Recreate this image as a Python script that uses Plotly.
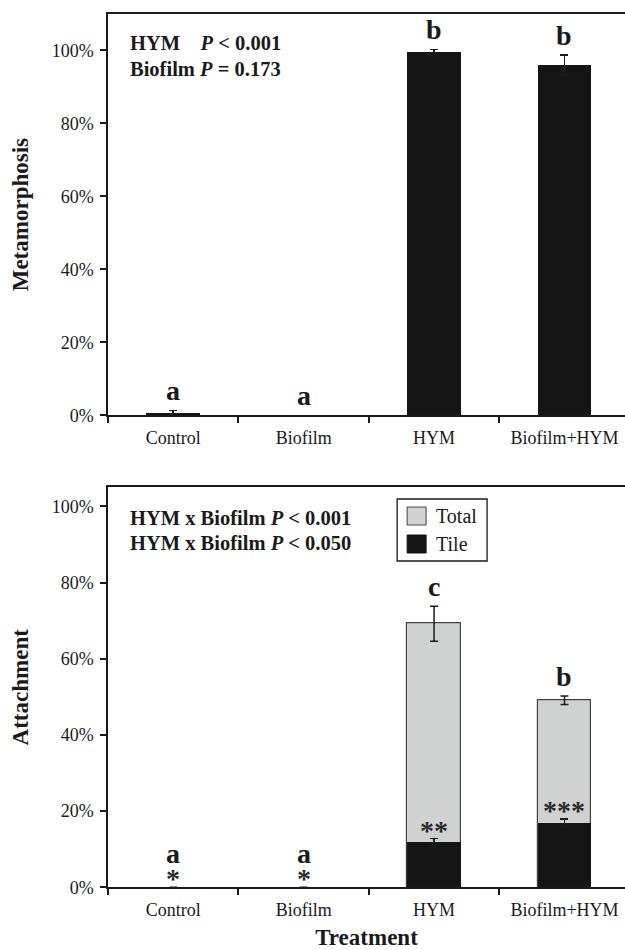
import plotly.graph_objects as go
from plotly.subplots import make_subplots

# ---------------- data ----------------
categories = ["Control", "Biofilm", "HYM", "Biofilm+HYM"]

metamorphosis = [0.6, 0.0, 99.6, 96.0]
metamorphosis_err = [0.7, 0.0, 0.7, 2.7]
metamorphosis_letters = ["a", "a", "b", "b"]

attachment_total = [0.0, 0.0, 69.2, 49.1]
attachment_total_err = [0.0, 0.0, 4.6, 1.1]
attachment_tile = [0.0, 0.0, 11.8, 16.9]
attachment_tile_err = [0.0, 0.0, 1.0, 1.0]
attachment_letters = ["a", "a", "c", "b"]
tile_stars = ["*", "*", "**", "***"]

y_tick_vals = [0, 20, 40, 60, 80, 100]
y_tick_text = ["0%", "20%", "40%", "60%", "80%", "100%"]
legend_names = ["Total", "Tile"]

# ---------------- style ----------------
FONT = "Liberation Serif"
INK = "#1a1a1a"
BAR_DARK = "#151515"
BAR_LIGHT = "#d0d2d2"
EDGE = "#444444"
W, H = 625, 950
L = 107.7
top_px = (14, 415.3)
bot_px = (487.3, 887.3)


def dom(p):
    return [(H - p[1]) / H, (H - p[0]) / H]


def px_x(px):
    return (px - L) / (W - L)


def px_y(py):
    return (H - py) / H


fig = make_subplots(rows=2, cols=1, shared_xaxes=False, vertical_spacing=0.05)

bar_w = 0.41
err_style = dict(type="data", symmetric=True, color=INK, thickness=1.5, width=4)

fig.add_trace(go.Bar(
    x=categories, y=metamorphosis, width=bar_w,
    marker=dict(color=BAR_DARK, line=dict(width=0)),
    error_y=dict(array=metamorphosis_err, **err_style),
    showlegend=False, name="Metamorphosis"), row=1, col=1)

fig.add_trace(go.Bar(
    x=categories, y=attachment_total, width=bar_w, name=legend_names[0],
    marker=dict(color=BAR_LIGHT,
                line=dict(color=EDGE, width=[1.2 if v > 0 else 0 for v in attachment_total])),
    error_y=dict(array=attachment_total_err, **err_style), showlegend=False), row=2, col=1)

fig.add_trace(go.Bar(
    x=categories, y=attachment_tile, width=bar_w, name=legend_names[1],
    marker=dict(color=BAR_DARK, line=dict(width=0)),
    error_y=dict(array=attachment_tile_err, **err_style), showlegend=False), row=2, col=1)

# ---------------- annotations ----------------
letter_font = dict(family=FONT, size=28, color=INK)
star_font = dict(family=FONT, size=28, color="#2a2a2a")

for c, v, e, t in zip(categories, metamorphosis, metamorphosis_err, metamorphosis_letters):
    fig.add_annotation(x=c, y=v + e, text=f"<b>{t}</b>", showarrow=False,
                       xref="x", yref="y", yanchor="middle", yshift=20, font=letter_font)

for c, tt, le, st in zip(categories, attachment_tile, attachment_tile_err, tile_stars):
    fig.add_annotation(x=c, y=tt + le, text=f"<b>{st}</b>", showarrow=False, height=16,
                       xref="x2", yref="y2", yanchor="middle", yshift=9, font=star_font)

for c, tv, te, tt, lt in zip(categories, attachment_total, attachment_total_err,
                             attachment_tile, attachment_letters):
    shift = 20 if tv > tt else 34
    fig.add_annotation(x=c, y=tv + te, text=f"<b>{lt}</b>", showarrow=False, height=22,
                       xref="x2", yref="y2", yanchor="middle", yshift=shift, font=letter_font)

stat_font = dict(family=FONT, size=20.5, color=INK)
sp = "\u00a0"
stat_lines = [
    ("x domain", "y domain", top_px, 43, f"<b>HYM{sp*4}<i>P</i> &lt; 0.001</b>"),
    ("x domain", "y domain", top_px, 69, "<b>Biofilm <i>P</i> = 0.173</b>"),
    ("x2 domain", "y2 domain", bot_px, 518, "<b>HYM x Biofilm <i>P</i> &lt; 0.001</b>"),
    ("x2 domain", "y2 domain", bot_px, 543, "<b>HYM x Biofilm <i>P</i> &lt; 0.050</b>"),
]
for xr_, yr_, pp, yc, txt in stat_lines:
    fig.add_annotation(xref=xr_, yref=yr_, x=(128 - L) / (W - L), y=(pp[1] - yc) / (pp[1] - pp[0]),
                       xanchor="left", yanchor="middle", showarrow=False, font=stat_font, text=txt)

# ---------------- legend (boxed, like the original) ----------------
fig.add_shape(type="rect", xref="paper", yref="paper",
              x0=px_x(397), x1=px_x(487), y0=px_y(561), y1=px_y(499),
              line=dict(color=INK, width=1.3), fillcolor="white", layer="above")
legend_fill = [BAR_LIGHT, BAR_DARK]
legend_line = [EDGE, BAR_DARK]
for i, (nm, fc, lc) in enumerate(zip(legend_names, legend_fill, legend_line)):
    top = 507 + 28 * i
    fig.add_shape(type="rect", xref="paper", yref="paper",
                  x0=px_x(407), x1=px_x(426), y0=px_y(top + 18), y1=px_y(top),
                  line=dict(color=lc, width=1), fillcolor=fc, layer="above")
    fig.add_annotation(xref="paper", yref="paper", x=px_x(434), y=px_y(top + 9),
                       xanchor="left", yanchor="middle", showarrow=False, text=nm,
                       font=dict(family=FONT, size=20, color=INK))

# ---------------- axes ----------------
xr = [-0.5, -0.5 + (W - L) / 130.5]
xcommon = dict(type="category", range=xr, tickson="boundaries", ticks="outside",
               ticklen=6, tickwidth=1.5, tickcolor=INK, showline=True, linewidth=2,
               linecolor=INK, mirror=True, showgrid=False, zeroline=False,
               ticklabelstandoff=5,
               tickfont=dict(family=FONT, size=18, color=INK), domain=[0, 1])
ycommon = dict(ticks="outside", ticklen=6, tickwidth=1.5, tickcolor=INK, showline=True,
               linewidth=1.5, linecolor=INK, showgrid=False, zeroline=False,
               tickvals=y_tick_vals, ticktext=y_tick_text, ticklabelstandoff=3,
               tickfont=dict(family=FONT, size=18, color=INK),
               title_font=dict(family=FONT, size=23, color=INK), title_standoff=17)

fig.update_xaxes(**xcommon)
fig.update_xaxes(row=2, col=1, title=dict(text="<b>Treatment</b>",
                                          font=dict(family=FONT, size=23, color=INK), standoff=12))
fig.update_yaxes(**ycommon)
fig.update_yaxes(row=1, col=1, range=[0, 110], domain=dom(top_px), title_text="<b>Metamorphosis</b>")
fig.update_yaxes(row=2, col=1, range=[0, 105], domain=dom(bot_px), title_text="<b>Attachment</b>")

fig.update_layout(
    width=W, height=H, barmode="overlay", bargap=0, showlegend=False,
    margin=dict(l=L, r=0, t=0, b=0, autoexpand=False),
    paper_bgcolor="white", plot_bgcolor="white",
    font=dict(family=FONT, color=INK),
)

fig.write_html("out.html", config={"displayModeBar": False},
               post_script="document.body.style.margin='0';document.body.style.overflow='hidden';")
